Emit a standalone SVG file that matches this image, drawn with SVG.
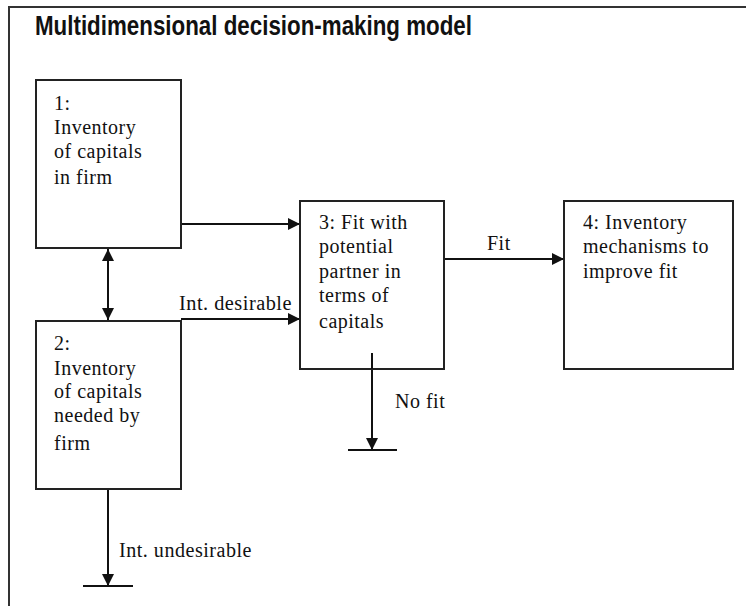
<svg xmlns="http://www.w3.org/2000/svg" width="746" height="606" viewBox="0 0 746 606">
<style>
.box{fill:#fff;stroke:#222;stroke-width:2}
.t{font-family:"Liberation Serif","Times New Roman",serif;font-size:20px;letter-spacing:0.5px;fill:#111}
.c{stroke:#111;stroke-width:2;fill:none}
.title{font-family:"Liberation Sans",Arial,sans-serif;font-size:27px;font-weight:bold;fill:#111}
</style>
<defs>
<marker id="ah" markerUnits="userSpaceOnUse" markerWidth="13" markerHeight="12" refX="12" refY="6" orient="auto-start-reverse">
<path d="M0,0 L12,6 L0,12 Z" fill="#111"/>
</marker>
</defs>
<rect width="746" height="606" fill="#fff"/>
<path d="M9,606 V7 H746" stroke="#333" stroke-width="2" fill="none"/>
<text class="title" x="35" y="35" textLength="437" lengthAdjust="spacingAndGlyphs">Multidimensional decision-making model</text>

<g id="connectors">
<line class="c" x1="181" y1="224" x2="300" y2="224" marker-end="url(#ah)"/>
<line class="c" x1="181" y1="319" x2="300" y2="319" marker-end="url(#ah)"/>
<line class="c" x1="108" y1="249" x2="108" y2="320" marker-start="url(#ah)" marker-end="url(#ah)"/>
<line class="c" x1="444" y1="259" x2="564" y2="259" marker-end="url(#ah)"/>
<line class="c" x1="372" y1="353" x2="372" y2="450" marker-end="url(#ah)"/>
<line class="c" x1="348" y1="450" x2="397" y2="450"/>
<line class="c" x1="108" y1="489" x2="108" y2="586" marker-end="url(#ah)"/>
<line class="c" x1="83" y1="586" x2="133" y2="586"/>
<text class="t" x="179" y="310" textLength="113" lengthAdjust="spacingAndGlyphs">Int. desirable</text>
<text class="t" x="487" y="250">Fit</text>
<text class="t" x="395" y="408">No fit</text>
<text class="t" x="119" y="557" textLength="133" lengthAdjust="spacingAndGlyphs">Int. undesirable</text>
</g>

<g id="node1">
<rect class="box" x="36" y="80" width="145" height="168"/>
<text class="t" x="54" y="110">1:</text>
<text class="t" x="54" y="134">Inventory</text>
<text class="t" x="54" y="158">of capitals</text>
<text class="t" x="54" y="184">in firm</text>
</g>

<g id="node2">
<rect class="box" x="36" y="321" width="145" height="168"/>
<text class="t" x="54" y="350">2:</text>
<text class="t" x="54" y="375">Inventory</text>
<text class="t" x="54" y="398">of capitals</text>
<text class="t" x="54" y="422">needed by</text>
<text class="t" x="54" y="450">firm</text>
</g>

<g id="node3">
<rect class="box" x="300" y="201" width="144" height="168"/>
<text class="t" x="319" y="229">3: Fit with</text>
<text class="t" x="319" y="253">potential</text>
<text class="t" x="319" y="278">partner in</text>
<text class="t" x="319" y="302">terms of</text>
<text class="t" x="319" y="328">capitals</text>
</g>

<g id="node4">
<rect class="box" x="564" y="201" width="169" height="168"/>
<text class="t" x="583" y="229">4: Inventory</text>
<text class="t" x="583" y="253">mechanisms to</text>
<text class="t" x="583" y="278">improve fit</text>
</g>
<line class="c" x1="372" y1="353" x2="372" y2="369"/>
</svg>
